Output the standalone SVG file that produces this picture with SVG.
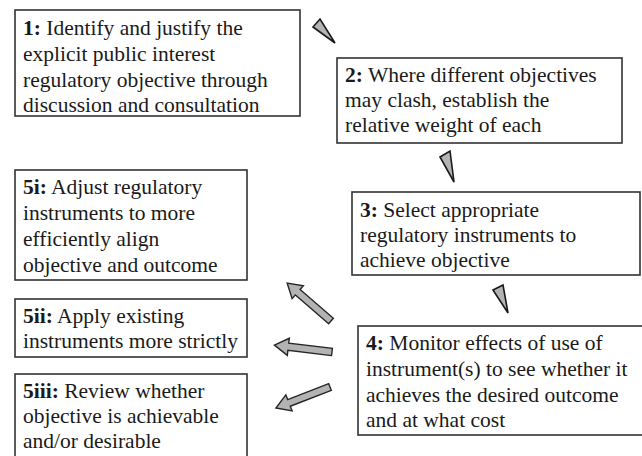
<svg xmlns="http://www.w3.org/2000/svg" width="642" height="456" viewBox="0 0 642 456">
  <style>
    .box { fill: #ffffff; stroke: #333333; stroke-width: 1.6; }
    .lbl { font-family: 'Liberation Serif', 'Times New Roman', 'DejaVu Serif', serif; font-size: 21.5px; fill: #1a1a1a; }
    .num { font-weight: bold; }
    .wedge { fill: #b3b3b3; stroke: #1a1a1a; stroke-width: 1.6; stroke-linejoin: miter; }
    .block { fill: #b3b3b3; stroke: #262626; stroke-width: 1.4; stroke-linejoin: miter; }
  </style>
  <defs>
    <!-- block arrow pointing along +x, tail at origin -->
    <path id="blockArrow" d="M0,-3.6 L44,-3.6 L44,-8.6 L58,0 L44,8.6 L44,3.6 L0,3.6 Z"/>
  </defs>
  <rect width="642" height="456" fill="#ffffff"/>

  <g id="node-1">
    <rect class="box" x="15" y="10" width="285" height="106"/>
    <text class="lbl" x="23" y="35"><tspan class="num">1:</tspan> Identify and justify the</text>
    <text class="lbl" x="23" y="61">explicit public interest</text>
    <text class="lbl" x="23" y="87">regulatory objective through</text>
    <text class="lbl" x="23" y="112">discussion and consultation</text>
  </g>

  <g id="node-2">
    <rect class="box" x="337" y="58" width="285" height="85"/>
    <text class="lbl" x="345" y="82"><tspan class="num">2:</tspan> Where different objectives</text>
    <text class="lbl" x="345" y="107">may clash, establish the</text>
    <text class="lbl" x="345" y="132">relative weight of each</text>
  </g>

  <g id="node-3">
    <rect class="box" x="352" y="192" width="288" height="83"/>
    <text class="lbl" x="360" y="217"><tspan class="num">3:</tspan> Select appropriate</text>
    <text class="lbl" x="360" y="242">regulatory instruments to</text>
    <text class="lbl" x="360" y="267">achieve objective</text>
  </g>

  <g id="node-4">
    <rect class="box" x="358" y="326" width="290" height="109"/>
    <text class="lbl" x="366" y="350"><tspan class="num">4:</tspan> Monitor effects of use of</text>
    <text class="lbl" x="366" y="376">instrument(s) to see whether it</text>
    <text class="lbl" x="366" y="402">achieves the desired outcome</text>
    <text class="lbl" x="366" y="427">and at what cost</text>
  </g>

  <g id="node-5i">
    <rect class="box" x="15" y="170" width="232" height="110"/>
    <text class="lbl" x="23" y="194"><tspan class="num">5i:</tspan> Adjust regulatory</text>
    <text class="lbl" x="23" y="220">instruments to more</text>
    <text class="lbl" x="23" y="246">efficiently align</text>
    <text class="lbl" x="23" y="272">objective and outcome</text>
  </g>

  <g id="node-5ii">
    <rect class="box" x="15" y="299" width="232" height="58"/>
    <text class="lbl" x="23" y="323"><tspan class="num">5ii:</tspan> Apply existing</text>
    <text class="lbl" x="23" y="348">instruments more strictly</text>
  </g>

  <g id="node-5iii">
    <rect class="box" x="15" y="374" width="232" height="92"/>
    <text class="lbl" x="23" y="398"><tspan class="num">5iii:</tspan> Review whether</text>
    <text class="lbl" x="23" y="423">objective is achievable</text>
    <text class="lbl" x="23" y="448">and/or desirable</text>
  </g>

  <g id="connectors">
    <!-- narrow wedges between consecutive steps -->
    <polygon class="wedge" points="313,27 320,19 335,43"/>
    <polygon class="wedge" points="440,157 450,151 454,182"/>
    <polygon class="wedge" points="493,290 503,285 508,313"/>
    <!-- block arrows from step 4 to the three options -->
    <use href="#blockArrow" class="block" transform="translate(331,321) rotate(220.9)"/>
    <use href="#blockArrow" class="block" transform="translate(332,352) rotate(186.8)"/>
    <use href="#blockArrow" class="block" transform="translate(330,387) rotate(158.8)"/>
  </g>
</svg>
